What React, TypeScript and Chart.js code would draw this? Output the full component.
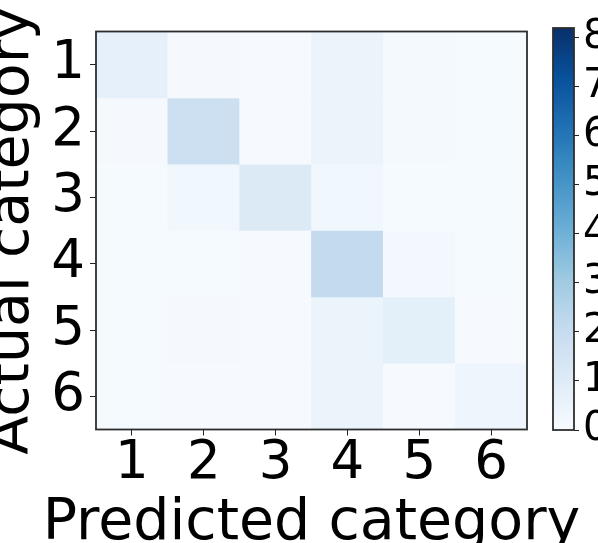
import React, { useEffect, useRef } from 'react';
import { Chart, registerables } from 'chart.js';

Chart.register(...registerables);

// ---- data ----
const predictedLabels = ['1', '2', '3', '4', '5', '6'];
const actualLabels = ['1', '2', '3', '4', '5', '6'];

const actual1 = [0.7, 0.1, 0.05, 0.45, 0.12, 0.07];
const actual2 = [0.1, 1.75, 0.04, 0.45, 0.12, 0.08];
const actual3 = [0.07, 0.28, 1.1, 0.28, 0.08, 0.07];
const actual4 = [0.08, 0.08, 0.04, 2.1, 0.18, 0.08];
const actual5 = [0.08, 0.1, 0.05, 0.48, 0.8, 0.04];
const actual6 = [0.07, 0.06, 0.06, 0.48, 0.04, 0.38];

const matrix = [actual1, actual2, actual3, actual4, actual5, actual6];

const colorbarTicks = [0, 1, 2, 3, 4, 5, 6, 7, 8];
const colorMin = 0;
const colorMax = 8.2;

const xTitle = 'Predicted category';
const yTitle = 'Actual category';

// matplotlib "Blues" anchors
const BLUES: number[][] = [
  [247, 251, 255],
  [222, 235, 247],
  [198, 219, 239],
  [158, 202, 225],
  [107, 174, 214],
  [66, 146, 198],
  [33, 113, 181],
  [8, 81, 156],
  [8, 48, 107],
];

function blues(t: number): string {
  const c = Math.max(0, Math.min(1, t));
  const s = c * (BLUES.length - 1);
  const i = Math.min(BLUES.length - 2, Math.floor(s));
  const f = s - i;
  const a = BLUES[i];
  const b = BLUES[i + 1];
  const r = Math.round(a[0] + (b[0] - a[0]) * f);
  const g = Math.round(a[1] + (b[1] - a[1]) * f);
  const bl = Math.round(a[2] + (b[2] - a[2]) * f);
  return `rgb(${r},${g},${bl})`;
}

const FONT = 'DejaVu Sans';
const FRAME = '#2e2e2e';
const TITLE_SIZE = 57;

const framePlugin = {
  id: 'frame',
  afterDraw(chart: any) {
    const { ctx, chartArea: a } = chart;
    ctx.save();
    ctx.strokeStyle = FRAME;
    ctx.lineWidth = 1.8;
    ctx.strokeRect(a.left, a.top, a.right - a.left, a.bottom - a.top);
    ctx.restore();
  },
};

// axis titles drawn at full width (Chart.js would squeeze them to the axis length)
const axisTitlePlugin = {
  id: 'axisTitles',
  afterDraw(chart: any) {
    const { ctx } = chart;
    const xs = chart.scales.x;
    const ys = chart.scales.y;
    ctx.save();
    ctx.fillStyle = '#000';
    ctx.font = `${TITLE_SIZE}px "${FONT}"`;
    ctx.textAlign = 'center';
    ctx.textBaseline = 'middle';
    ctx.fillText(xTitle, (xs.left + xs.right) / 2, xs.bottom - 19);
    ctx.translate(ys.left + 13.5, (ys.top + ys.bottom) / 2);
    ctx.rotate(-Math.PI / 2);
    ctx.fillText(yTitle, 0, 0);
    ctx.restore();
  },
};

export default function App() {
  const mainRef = useRef<HTMLCanvasElement | null>(null);
  const cbRef = useRef<HTMLCanvasElement | null>(null);

  useEffect(() => {
    document.body.style.margin = '0';
    document.body.style.overflow = 'hidden';
    Chart.defaults.font.family = FONT;
    Chart.defaults.color = '#000';

    const main = new Chart(mainRef.current as HTMLCanvasElement, {
      type: 'bar',
      data: {
        labels: predictedLabels,
        datasets: matrix.map((row, r) => ({
          label: actualLabels[r],
          data: row.map(() => [Number(actualLabels[r]) - 0.5, Number(actualLabels[r]) + 0.5]),
          backgroundColor: row.map((v) => blues((v - colorMin) / (colorMax - colorMin))),
          borderWidth: 0,
          barPercentage: 1,
          categoryPercentage: 1,
          grouped: false,
        })) as any,
      },
      options: {
        animation: false,
        responsive: false,
        layout: { padding: { top: 27.5, right: 71, bottom: 0, left: 0 } },
        plugins: { legend: { display: false }, tooltip: { enabled: false } },
        scales: {
          x: {
            type: 'category',
            offset: true,
            grid: {
              display: true,
              offset: false,
              drawOnChartArea: false,
              drawTicks: true,
              tickLength: 6,
              color: '#222',
              lineWidth: 1,
            },
            border: { display: false },
            ticks: {
              font: { family: FONT, size: 53, lineHeight: 1 },
              color: '#000',
              padding: 2,
              maxRotation: 0,
              autoSkip: false,
            },
            title: { display: false },
            afterFit: (s: any) => {
              s.height = 113.5;
            },
          },
          y: {
            type: 'linear',
            min: 0.5,
            max: 6.5,
            reverse: true,
            afterBuildTicks: (s: any) => {
              s.ticks = actualLabels.map((l) => ({ value: Number(l) }));
            },
            grid: {
              display: true,
              drawOnChartArea: false,
              drawTicks: true,
              tickLength: 6,
              color: '#222',
              lineWidth: 1,
            },
            border: { display: false },
            ticks: {
              font: { family: FONT, size: 53, lineHeight: 1 },
              color: '#000',
              padding: 5,
              callback: (v: any) => String(v),
            },
            title: { display: false },
            afterFit: (s: any) => {
              s.width = 96;
            },
          },
        },
      },
      plugins: [framePlugin, axisTitlePlugin],
    });

    const cb = new Chart(cbRef.current as HTMLCanvasElement, {
      type: 'bar',
      data: {
        labels: [''],
        datasets: [
          {
            data: [[colorMin, colorMax]] as any,
            backgroundColor: (ctx: any) => {
              const chart = ctx.chart;
              const ys = chart.scales && chart.scales.y;
              if (!chart.chartArea || !ys) return blues(0.5);
              const y0 = ys.getPixelForValue(colorMin);
              const y1 = ys.getPixelForValue(colorMax);
              const g = chart.ctx.createLinearGradient(0, y0, 0, y1);
              const n = 32;
              for (let i = 0; i <= n; i++) g.addColorStop(i / n, blues(i / n));
              return g;
            },
            borderWidth: 0,
            barPercentage: 1,
            categoryPercentage: 1,
          },
        ],
      },
      options: {
        animation: false,
        responsive: false,
        layout: { padding: { top: 28, right: 0, bottom: 113, left: 8 } },
        plugins: { legend: { display: false }, tooltip: { enabled: false } },
        scales: {
          x: { display: false },
          y: {
            position: 'right',
            min: colorMin,
            max: colorMax,
            afterBuildTicks: (s: any) => {
              s.ticks = colorbarTicks.map((v) => ({ value: v }));
            },
            grid: {
              display: true,
              drawOnChartArea: false,
              drawTicks: true,
              tickLength: 5,
              color: '#222',
              lineWidth: 1,
            },
            border: { display: false },
            ticks: {
              font: { family: FONT, size: 40, lineHeight: 1 },
              color: '#000',
              padding: 4,
              callback: (v: any) => String(v),
            },
            afterFit: (s: any) => {
              s.width = 24;
            },
          },
        },
      },
      plugins: [framePlugin],
    });

    return () => {
      main.destroy();
      cb.destroy();
    };
  }, []);

  return (
    <div style={{ position: 'relative', width: 598, height: 543, overflow: 'hidden', background: '#fff' }}>
      <canvas
        ref={mainRef}
        width={598}
        height={543}
        style={{ position: 'absolute', left: 0, top: 0, width: 598, height: 543 }}
      />
      <canvas
        ref={cbRef}
        width={53}
        height={543}
        style={{ position: 'absolute', left: 545, top: 0, width: 53, height: 543 }}
      />
    </div>
  );
}
